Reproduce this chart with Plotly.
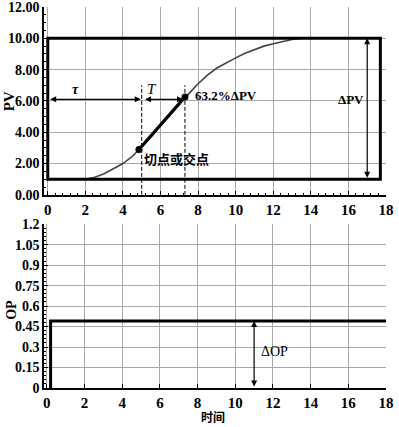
import plotly.graph_objects as go

# ---- data ----
pv_t = [2, 2.5, 3, 3.5, 4, 4.5, 5, 5.5, 6, 6.5, 7, 7.5, 8, 8.5, 9, 9.5, 10, 10.5, 11, 11.5, 12, 12.5, 13, 13.5]
pv_y = [1.0, 1.12, 1.35, 1.65, 2.0, 2.45, 3.05, 3.7, 4.4, 5.1, 5.8, 6.45, 7.1, 7.65, 8.1, 8.45, 8.75, 9.05, 9.3, 9.5, 9.65, 9.8, 9.92, 10.0]
tangent_t = [4.85, 7.3]
tangent_y = [2.9, 6.25]
pv_box_t = [0, 17.7]
pv_box_y = [1, 10]
dead_time = 5.0
tau_end = 7.3
arrow_y = 6.1
dpv_x = 17.0
op_t = [0.2, 0.2, 18]
op_y = [0, 0.49, 0.49]
dop_x = 11.0
x_ticks = [0, 2, 4, 6, 8, 10, 12, 14, 16, 18]
x_labels = ["0", "2", "4", "6", "8", "10", "12", "14", "16", "18"]
pv_ticks = [0, 2, 4, 6, 8, 10, 12]
pv_labels = ["0.00", "2.00", "4.00", "6.00", "8.00", "10.00", "12.00"]
op_ticks = [0, 0.15, 0.3, 0.45, 0.6, 0.75, 0.9, 1.05, 1.2]
op_labels = ["0", "0.15", "0.3", "0.45", "0.6", "0.75", "0.9", "1.05", "1.2"]

SERIF = "Liberation Serif"
CJK = "Noto Sans CJK SC"
tickfont = dict(family=SERIF, size=14, color="black")
xtickfont = dict(family=SERIF, size=15, color="black")

def bold(lst):
    return ["<b>%s</b>" % s for s in lst]

fig = go.Figure()

fig.add_trace(go.Scatter(x=pv_t, y=pv_y, mode="lines", line=dict(color="#444444", width=1.6),
                         xaxis="x", yaxis="y", showlegend=False, hoverinfo="skip"))
fig.add_trace(go.Scatter(x=tangent_t, y=tangent_y, mode="lines+markers",
                         line=dict(color="black", width=3.2), marker=dict(color="black", size=7),
                         xaxis="x", yaxis="y", showlegend=False, hoverinfo="skip"))
fig.add_trace(go.Scatter(x=op_t, y=op_y, mode="lines", line=dict(color="black", width=3),
                         xaxis="x2", yaxis="y2", showlegend=False, hoverinfo="skip"))

fig.add_shape(type="rect", xref="x", yref="y", x0=pv_box_t[0], x1=pv_box_t[1], y0=pv_box_y[0], y1=pv_box_y[1],
              line=dict(color="black", width=3))
for xv in [dead_time, tau_end]:
    fig.add_shape(type="line", xref="x", yref="y", x0=xv, x1=xv, y0=0, y1=7.0,
                  line=dict(color="black", width=1, dash="4px,2px"))

def dbl_arrow(x0, y0, x1, y1, xr, yr):
    fig.add_annotation(x=x1, y=y1, ax=x0, ay=y0, xref=xr, yref=yr, axref=xr, ayref=yr,
                       text="", showarrow=True, arrowhead=2, arrowside="end+start",
                       arrowsize=1, arrowwidth=1.2, arrowcolor="black", standoff=0, startstandoff=0)

dbl_arrow(0.05, arrow_y, dead_time - 0.05, arrow_y, "x", "y")
dbl_arrow(dead_time + 0.1, arrow_y, tau_end - 0.1, arrow_y, "x", "y")
dbl_arrow(dpv_x, pv_box_y[0], dpv_x, pv_box_y[1], "x", "y")
dbl_arrow(dop_x, 0, dop_x, op_y[1], "x2", "y2")

def label(x, y, txt, xr, yr, xanchor="left", font=None, textangle=0):
    fig.add_annotation(x=x, y=y, xref=xr, yref=yr, text=txt, showarrow=False,
                       xanchor=xanchor, yanchor="middle", font=font, textangle=textangle)

label(1.5, 6.75, "<i><b>τ</b></i>", "x", "y", "center", dict(family=SERIF, size=14, color="black"))
label(5.55, 6.75, "<i>T</i>", "x", "y", "center", dict(family=SERIF, size=15, color="black"))
label(7.75, 6.35, "<b>63.2%ΔPV</b>", "x", "y", "left", dict(family=SERIF, size=13, color="black"))
label(5.0, 2.35, "<b>切点或交点</b>", "x", "y", "left", dict(family=CJK, size=13, color="black"))
label(16.95, 6.1, "<b>ΔPV</b>", "x", "y", "right", dict(family=SERIF, size=13, color="black"))
label(11.25, 0.27, "ΔOP", "x2", "y2", "left", dict(family=SERIF, size=14, color="black"))

# axis titles
label(-0.10, 0.752, "<b>PV</b>", "paper", "paper", "center", dict(family=SERIF, size=15, color="black"), -90)
label(-0.095, 0.204, "<b>OP</b>", "paper", "paper", "center", dict(family=SERIF, size=14, color="black"), -90)
label(0.494, -0.0757, "<b>时间</b>", "paper", "paper", "center", dict(family=CJK, size=12, color="black"))

axis_common = dict(showgrid=True, gridcolor="#a8a8a8", gridwidth=1, zeroline=False, automargin=False,
                   showline=True, linecolor="black", ticks="inside", ticklen=4, tickcolor="black",
                   tickfont=tickfont, ticklabeloverflow="allow")

fig.update_layout(
    width=399, height=427,
    margin=dict(l=44, r=13, t=7, b=39),
    paper_bgcolor="white", plot_bgcolor="white",
    xaxis=dict(axis_common, domain=[0, 1], anchor="y", range=[-0.2, 18], tickvals=x_ticks, ticktext=bold(x_labels),
               tickfont=xtickfont, linewidth=1.5,
               minor=dict(dtick=0.4, ticks="inside", ticklen=2.5, tickcolor="black", showgrid=False)),
    yaxis=dict(axis_common, domain=[0.507, 1.0], anchor="x", range=[0, 12], tickvals=pv_ticks, ticktext=bold(pv_labels),
               linewidth=1.5, minor=dict(dtick=0.5, ticks="inside", ticklen=2.5, tickcolor="black", showgrid=False)),
    xaxis2=dict(axis_common, domain=[0, 1], anchor="y2", range=[-0.15, 18], tickvals=x_ticks, ticktext=bold(x_labels),
                tickfont=xtickfont, linewidth=2),
    yaxis2=dict(axis_common, domain=[0, 0.43], anchor="x2", range=[0, 1.2], tickvals=op_ticks, ticktext=bold(op_labels),
                linewidth=1.5, minor=dict(dtick=0.03, ticks="inside", ticklen=2.5, tickcolor="black", showgrid=False)),
)

fig.write_html("out.html", config={"displayModeBar": False},
               post_script="document.body.style.margin='0px';document.body.style.padding='0px';")
